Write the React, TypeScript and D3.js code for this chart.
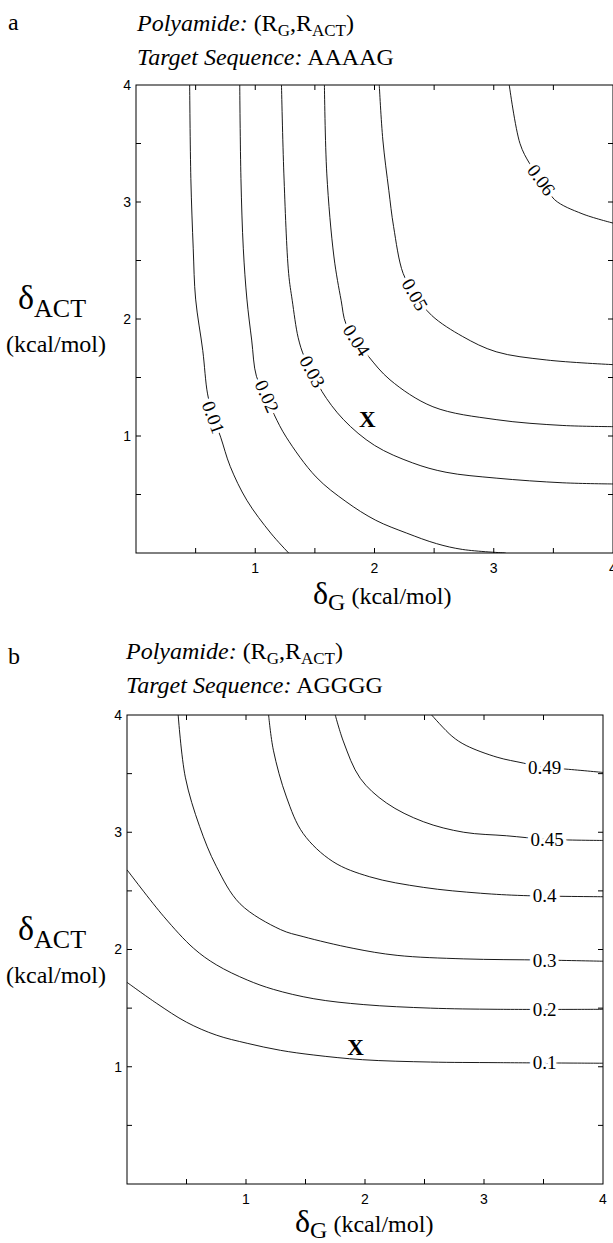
import * as d3 from 'd3';

// tick positions (kcal/mol), labels only on whole numbers
const TICKS = [0.5, 1, 1.5, 2, 2.5, 3, 3.5];
const TICK_LABELS = [1, 2, 3, 4];

// ─── panel a: AAAAG ───────────────────────────────────────────────────────────
const LEVELS_A = ['0.01', '0.02', '0.03', '0.04', '0.05', '0.06'];
const CONTOURS_A: [number, number][][] = [
  [[0.45, 4], [0.46, 3.2], [0.48, 2.6], [0.5, 2.17], [0.56, 1.73], [0.6, 1.36], [0.65, 1.16], [0.71, 0.99], [0.79, 0.74], [0.93, 0.45], [1.13, 0.17], [1.28, 0]],
  [[0.87, 4], [0.88, 3.2], [0.9, 2.6], [0.93, 2.17], [0.97, 1.82], [1.01, 1.51], [1.09, 1.34], [1.16, 1.18], [1.26, 0.99], [1.51, 0.65], [1.76, 0.44], [2.01, 0.28], [2.27, 0.17], [2.52, 0.08], [2.74, 0.03], [3.1, 0]],
  [[1.22, 4], [1.24, 3.24], [1.28, 2.39], [1.31, 2.16], [1.36, 1.84], [1.41, 1.68], [1.48, 1.55], [1.56, 1.38], [1.74, 1.14], [2.0, 0.92], [2.32, 0.77], [2.6, 0.69], [3.02, 0.64], [3.58, 0.6], [4, 0.59]],
  [[1.58, 4], [1.6, 3.24], [1.66, 2.53], [1.72, 2.16], [1.76, 1.96], [1.85, 1.82], [1.95, 1.68], [2.13, 1.48], [2.49, 1.25], [3.02, 1.14], [3.58, 1.09], [4, 1.08]],
  [[2.04, 4], [2.07, 3.53], [2.12, 3.1], [2.16, 2.79], [2.24, 2.39], [2.34, 2.21], [2.48, 2.03], [2.74, 1.85], [3.02, 1.72], [3.44, 1.65], [4, 1.61]],
  [[3.13, 4], [3.22, 3.5], [3.3, 3.33], [3.4, 3.19], [3.51, 3.02], [3.74, 2.9], [4, 2.82]],
];
const LABEL_AT_A: [number, number][] = [[0.65, 1.16], [1.1, 1.34], [1.48, 1.55], [1.85, 1.82], [2.34, 2.21], [3.4, 3.19]];
const MARK_A: [number, number] = [1.94, 1.15];

// ─── panel b: AGGGG ───────────────────────────────────────────────────────────
const LEVELS_B = ['0.1', '0.2', '0.3', '0.4', '0.45', '0.49'];
const CONTOURS_B: [number, number][][] = [
  [[0, 1.72], [0.25, 1.54], [0.5, 1.38], [0.75, 1.27], [1.01, 1.2], [1.29, 1.14], [1.57, 1.1], [1.98, 1.06], [2.55, 1.04], [3.11, 1.035], [4, 1.03]],
  [[0, 2.68], [0.31, 2.28], [0.56, 2.01], [0.75, 1.87], [1.01, 1.74], [1.23, 1.66], [1.57, 1.58], [1.99, 1.53], [2.55, 1.5], [3.11, 1.49], [4, 1.49]],
  [[0.43, 4], [0.49, 3.47], [0.61, 3.05], [0.75, 2.71], [0.95, 2.39], [1.29, 2.17], [1.48, 2.11], [1.9, 2.01], [2.27, 1.95], [2.83, 1.92], [3.5, 1.91], [4, 1.9]],
  [[1.19, 4], [1.23, 3.7], [1.34, 3.3], [1.48, 2.99], [1.73, 2.75], [2.04, 2.62], [2.49, 2.53], [2.97, 2.48], [3.33, 2.46], [4, 2.45]],
  [[1.75, 4], [1.82, 3.77], [1.96, 3.46], [2.18, 3.25], [2.49, 3.09], [2.83, 3.0], [3.19, 2.97], [3.53, 2.94], [4, 2.93]],
  [[2.56, 4], [2.73, 3.82], [2.85, 3.74], [3.11, 3.64], [3.33, 3.59], [3.51, 3.55], [3.67, 3.54], [4, 3.51]],
];
const LABEL_AT_B: [number, number][] = [[3.51, 1.035], [3.51, 1.49], [3.51, 1.91], [3.51, 2.46], [3.53, 2.94], [3.51, 3.55]];
const MARK_B: [number, number] = [1.92, 1.17];

const SERIF = '"Liberation Serif", "Times New Roman", serif';
const SANS = '"Liberation Sans", Arial, sans-serif';

function Panel({ id, letter, target, box, text, contours, levels, labelAt, mark, rotate }) {
  const x = d3.scaleLinear().domain([0, 4]).range([box.left, box.right]);
  const y = d3.scaleLinear().domain([0, 4]).range([box.bottom, box.top]);
  const line = d3.line<[number, number]>().x(d => x(d[0])).y(d => y(d[1])).curve(d3.curveCatmullRom.alpha(0.5));

  // angle of the contour near its label, in screen space
  const angleAt = (pts: [number, number][], at: [number, number]) => {
    const px = pts.map(p => [x(p[0]), y(p[1])]);
    const ax = x(at[0]), ay = y(at[1]);
    let best = 0, bestD = Infinity;
    for (let i = 0; i < px.length - 1; i++) {
      const mx = (px[i][0] + px[i + 1][0]) / 2, my = (px[i][1] + px[i + 1][1]) / 2;
      const d = (mx - ax) ** 2 + (my - ay) ** 2;
      if (d < bestD) { bestD = d; best = i; }
    }
    let a = Math.atan2(px[best + 1][1] - px[best][1], px[best + 1][0] - px[best][0]) * 180 / Math.PI;
    if (a > 90) a -= 180;
    if (a <= -90) a += 180;
    return a;
  };

  const tl = 5;
  return (
    <g>
      <defs>
        <clipPath id={id}>
          <rect x={box.left} y={box.top} width={box.right - box.left} height={box.bottom - box.top} />
        </clipPath>
      </defs>

      {/* panel letter + header */}
      <text x={8} y={text.letterY} fontFamily={SERIF} fontSize={24}>{letter}</text>
      <text x={text.headX} y={text.headY} fontFamily={SERIF} fontSize={24}>
        <tspan fontStyle="italic">Polyamide:</tspan> (R<tspan fontSize={17} dy={5}>G</tspan>
        <tspan dy={-5}>,R</tspan><tspan fontSize={17} dy={5}>ACT</tspan><tspan dy={-5}>)</tspan>
      </text>
      <text x={text.headX} y={text.headY + 34} fontFamily={SERIF} fontSize={24}>
        <tspan fontStyle="italic">Target Sequence:</tspan> {target}
      </text>

      {/* contours */}
      <g clipPath={`url(#${id})`}>
        {contours.map((c, i) => (
          <path key={i} d={line(c)} fill="none" stroke="#000" strokeWidth={0.9} />
        ))}
      </g>
      {levels.map((lv, i) => {
        const a = rotate ? angleAt(contours[i], labelAt[i]) : 0;
        return (
          <text key={lv} transform={`translate(${x(labelAt[i][0])},${y(labelAt[i][1])}) rotate(${a})`}
            textAnchor="middle" dy="0.35em" fontFamily={SERIF} fontSize={19}
            stroke="#fff" strokeWidth={7} paintOrder="stroke" fill="#000">{lv}</text>
        );
      })}

      <text x={x(mark[0])} y={y(mark[1])} dy="0.35em" textAnchor="middle" fontFamily={SERIF}
        fontWeight="bold" fontSize={23}>X</text>

      {/* frame with inward ticks on all sides */}
      <rect x={box.left} y={box.top} width={box.right - box.left} height={box.bottom - box.top}
        fill="none" stroke="#000" strokeWidth={1} />
      {TICKS.map(t => (
        <g key={t} stroke="#000" strokeWidth={1}>
          <line x1={x(t)} x2={x(t)} y1={box.bottom} y2={box.bottom - tl} />
          <line x1={x(t)} x2={x(t)} y1={box.top} y2={box.top + tl} />
          <line x1={box.left} x2={box.left + tl} y1={y(t)} y2={y(t)} />
          <line x1={box.right} x2={box.right - tl} y1={y(t)} y2={y(t)} />
        </g>
      ))}
      {TICK_LABELS.map(t => (
        <g key={t} fontFamily={SANS} fontSize={14}>
          <text x={x(t)} y={box.bottom + 20} textAnchor="middle">{t}</text>
          <text x={box.left - 5} y={y(t)} dy="0.35em" textAnchor="end">{t}</text>
        </g>
      ))}

      {/* axis titles */}
      <text x={text.xLabX} y={text.xLabY} fontFamily={SERIF} fontSize={24}>
        <tspan fontSize={32}>δ</tspan><tspan dy={6}>G</tspan><tspan dy={-6}> (kcal/mol)</tspan>
      </text>
      <text x={18} y={text.yLabY} fontFamily={SERIF}>
        <tspan fontSize={34}>δ</tspan><tspan fontSize={26} dy={8}>ACT</tspan>
      </text>
      <text x={6} y={text.yLabY + 43} fontFamily={SERIF} fontSize={24}>(kcal/mol)</text>
    </g>
  );
}

export default function App() {
  return (
    <svg width={613} height={1243} style={{ position: 'absolute', left: 0, top: 0, background: '#fff' }}>
      <Panel id="clipA" letter="a" target="AAAAG"
        box={{ left: 136, right: 613, top: 85, bottom: 553 }}
        text={{ letterY: 30, headX: 137, headY: 31, xLabX: 313, xLabY: 604, yLabY: 309 }}
        contours={CONTOURS_A} levels={LEVELS_A} labelAt={LABEL_AT_A} mark={MARK_A} rotate />
      <Panel id="clipB" letter="b" target="AGGGG"
        box={{ left: 127, right: 603, top: 715, bottom: 1184 }}
        text={{ letterY: 664, headX: 126, headY: 659, xLabX: 295, xLabY: 1232, yLabY: 940 }}
        contours={CONTOURS_B} levels={LEVELS_B} labelAt={LABEL_AT_B} mark={MARK_B} rotate={false} />
    </svg>
  );
}
